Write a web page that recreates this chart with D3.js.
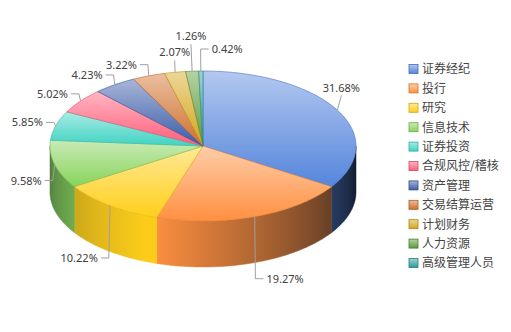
<!DOCTYPE html>
<html>
<head>
<meta charset="utf-8">
<script src="https://cdn.jsdelivr.net/npm/d3@7"></script>
<style>
body { margin: 0; background: #fff; }
svg { display: block; }
</style>
</head>
<body>
<svg id="chart"></svg>
<script>
var categories = ['证券经纪', '投行', '研究', '信息技术', '证券投资', '合规风控/稽核', '资产管理', '交易结算运营', '计划财务', '人力资源', '高级管理人员']
var values = [31.68, 19.27, 10.22, 9.58, 5.85, 5.02, 4.23, 3.22, 2.07, 1.26, 0.42]
var palette = ['#5585dc', '#ff9040', '#ffcf1a', '#88d35c', '#3fd3c3', '#ff5d7a', '#3c5ca8', '#d0702e', '#d4a51c', '#5c9a3a', '#2a9c98']

var width = 511, height = 332
var cx = 203, cy = 146, rx = 153, ry = 75, depth = 46
var distX = 2, distY = 12, tail = 8, gap = 3
var plotLeft = 3, plotRight = 360

var svg = d3.select('#chart')
	.attr('width', width)
	.attr('height', height)
var defs = svg.append('defs')

var color = d3.scaleOrdinal()
	.domain(categories)
	.range(palette)

var data = categories.map((c, i) => ({name: c, value: values[i]}))
var arcs = d3.pie().sort(null).value(d => d.value)(data)

function px(a, k) { return cx + (rx + (k || 0)) * Math.sin(a) }
function py(a, k) { return cy - (ry + (k || 0)) * Math.cos(a) }

function ellipsePts(a0, a1, dy) {
	var n = Math.max(2, Math.ceil((a1 - a0) / 0.02))
	return d3.range(n + 1).map(j => {
		var a = a0 + (a1 - a0) * j / n
		return [px(a), py(a) + dy]
	})
}

var line = d3.line()
var rad = d => d * Math.PI / 180

// brightness of the outer wall, by angle (lit from front-left)
var light = d3.scaleLinear()
	.domain([90, 123, 200, 240, 275].map(rad))
	.range([0.06, 0.38, 1, 0.78, 0.5])
	.clamp(true)

// top face gradients (also used by legend boxes)
arcs.forEach((d, i) => {
	var base = color(d.data.name)
	var g = defs.append('linearGradient')
		.attr('id', 'top' + i)
		.attr('x1', 0).attr('y1', 0).attr('x2', 0).attr('y2', 1)
	g.append('stop').attr('offset', 0).attr('stop-color', d3.interpolateRgb(base, '#fff')(0.55))
	g.append('stop').attr('offset', 1).attr('stop-color', base)
})

// outer walls, front half only
var walls = arcs.map((d, i) => {
	var s = Math.max(d.startAngle, Math.PI / 2)
	var e = Math.min(d.endAngle, Math.PI * 1.5)
	return {i: i, s: s, e: e, name: d.data.name}
}).filter(w => w.s < w.e)

walls.forEach(w => {
	var base = color(w.name)
	var x1 = px(w.s), x2 = px(w.e)
	var g = defs.append('linearGradient')
		.attr('id', 'side' + w.i)
		.attr('gradientUnits', 'userSpaceOnUse')
		.attr('x1', x1).attr('y1', 0).attr('x2', x2).attr('y2', 0)
	d3.range(9).forEach(j => {
		var a = w.s + (w.e - w.s) * j / 8
		g.append('stop')
			.attr('offset', (px(a) - x1) / (x2 - x1))
			.attr('stop-color', d3.interpolateRgb('#0b0f18', base)(light(a)))
	})
})

svg.append('g').selectAll('path')
	.data(walls)
	.enter()
	.append('path')
		.attr('d', w => line(ellipsePts(w.s, w.e, 0).concat(ellipsePts(w.s, w.e, depth).reverse())) + 'Z')
		.attr('fill', w => 'url(#side' + w.i + ')')
		.attr('stroke', w => 'url(#side' + w.i + ')')
		.attr('stroke-width', 0.5)

svg.append('g').selectAll('path')
	.data(arcs)
	.enter()
	.append('path')
		.attr('d', d => line([[cx, cy]].concat(ellipsePts(d.startAngle, d.endAngle, 0))) + 'Z')
		.attr('fill', (d, i) => 'url(#top' + i + ')')
		.attr('stroke', d => d3.color(color(d.data.name)).darker(0.35))
		.attr('stroke-width', 0.6)
		.attr('stroke-linejoin', 'round')

// data labels
var labelG = svg.append('g')
	.style('font-family', '"Noto Sans", "DejaVu Sans", sans-serif')
	.style('font-size', '11px')
var placed = []

function overlaps(b) {
	return placed.some(p => b.x0 < p.x1 && b.x1 > p.x0 && b.y0 < p.y1 && b.y1 > p.y0)
}

arcs.forEach((d, i) => {
	var a = (d.startAngle + d.endAngle) / 2
	var s = Math.sin(a), c = Math.cos(a)
	var ax = px(a), ay = py(a)
	var txt = labelG.append('text')
		.attr('fill', '#404040')
		.text(values[i].toFixed(2) + '%')
	var w = txt.node().getComputedTextLength()

	function layout(extra, mode) {
		var lx = px(a, distX + extra)
		var ly = py(a, distY + extra) + (c < 0 ? -c * (depth + 8) : 0)
		var o = {lx: lx, ly: ly, pts: [[ax, ay], [lx, ly]]}
		if (mode == 'middle') {
			o.anchor = 'middle'; o.tx = lx; o.ty = ly - 4
			o.box = {x0: lx - w / 2, x1: lx + w / 2}
		} else if (mode == 'start') {
			o.anchor = 'start'; o.tx = lx + tail + gap; o.ty = ly + 4
			o.pts.push([lx + tail, ly])
			o.box = {x0: o.tx, x1: o.tx + w}
		} else {
			o.anchor = 'end'; o.tx = lx - tail - gap; o.ty = ly + 4
			o.pts.push([lx - tail, ly])
			o.box = {x0: o.tx - w, x1: o.tx}
		}
		// keep inside the plot area
		if (o.box.x1 > plotRight) {
			var sh = o.box.x1 - plotRight
			o.box.x0 -= sh; o.box.x1 -= sh
			o.anchor = 'start'; o.tx = o.box.x0; o.ty = ly - 12
			o.pts = [[ax, ay], [(o.box.x0 + o.box.x1) / 2, ly - 9]]
		}
		if (o.box.x0 < plotLeft) {
			var sh2 = plotLeft - o.box.x0
			o.box.x0 += sh2; o.box.x1 += sh2
			o.anchor = 'start'; o.tx = o.box.x0
			o.pts = [[ax, ay], [lx, ly], [o.box.x1 + gap, ly]]
		}
		o.box.y0 = o.ty - 10
		o.box.y1 = o.ty + 3
		return o
	}

	var mode = Math.abs(s) < 0.2 && c > 0 ? 'middle' : (s >= 0 ? 'start' : 'end')
	var tries = [0, 5, 10, 15].map(e => layout(e, mode))
	tries.push(layout(10, mode == 'start' ? 'end' : 'start'))
	var best = tries.find(o => !overlaps(o.box)) || tries[0]
	placed.push(best.box)

	txt.attr('x', best.tx).attr('y', best.ty).attr('text-anchor', best.anchor)
	labelG.append('path')
		.attr('d', line(best.pts))
		.attr('fill', 'none')
		.attr('stroke', '#a0a0a0')
		.attr('stroke-width', 1)
})

// legend
var legend = svg.append('g')
	.attr('transform', 'translate(409,69)')
	.style('font-family', '"Noto Sans CJK SC", "Noto Sans", sans-serif')
	.style('font-size', '12px')

legend.selectAll('rect')
	.data(categories)
	.enter()
	.append('rect')
		.attr('x', 0)
		.attr('y', (d, i) => i * 19.4 - 4.5)
		.attr('width', 9)
		.attr('height', 9)
		.attr('fill', (d, i) => 'url(#top' + i + ')')
		.attr('stroke', d => d3.color(color(d)).darker(0.6))
		.attr('stroke-width', 0.8)

legend.selectAll('text')
	.data(categories)
	.enter()
	.append('text')
		.attr('x', 13)
		.attr('y', (d, i) => i * 19.4)
		.attr('dy', '0.36em')
		.attr('fill', '#444')
		.text(d => d)
</script>
</body>
</html>
